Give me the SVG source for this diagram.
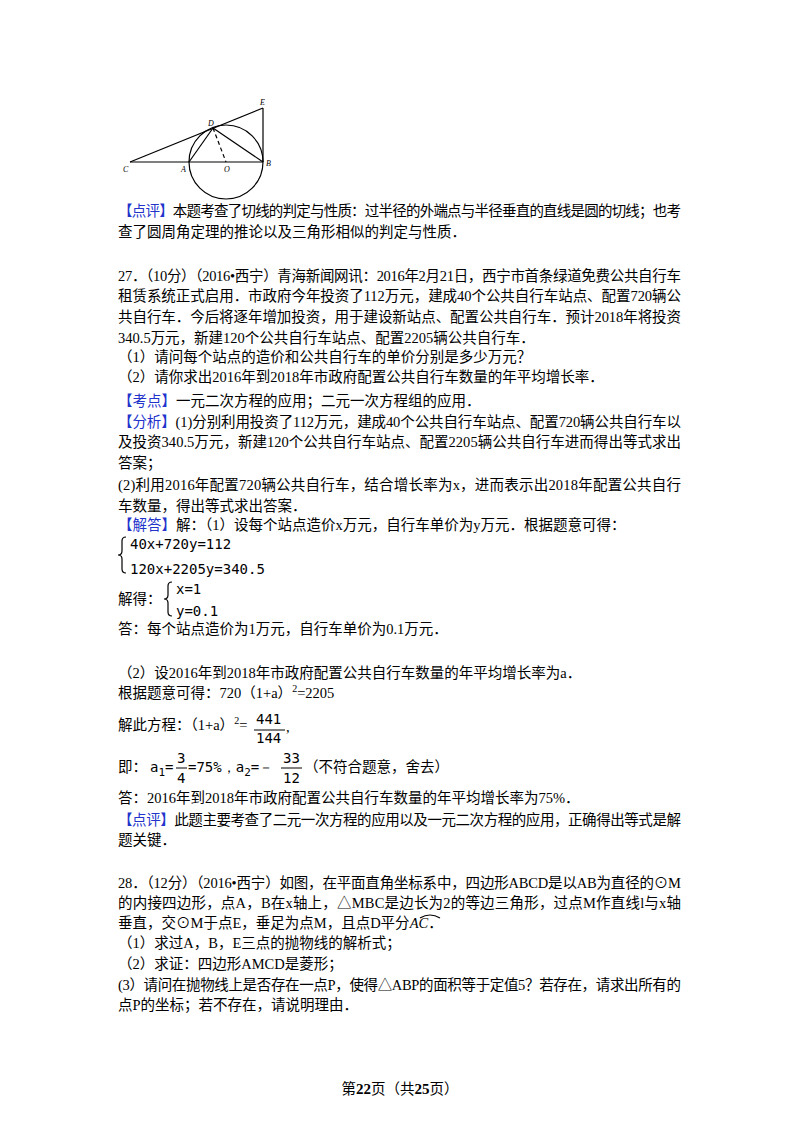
<svg xmlns="http://www.w3.org/2000/svg" width="800" height="1132" viewBox="0 0 800 1132">
<style>
text{font-family:"Liberation Serif","Noto Sans CJK SC",serif;font-size:14.5px;fill:#000}
.b{fill:#2233cc}
.m{font-family:"DejaVu Sans Mono","Liberation Mono",monospace;font-size:14px}
.l{font-family:"Liberation Serif",serif;font-style:italic;font-size:8px}
.g{stroke:#000;stroke-width:1.2;fill:none}
</style>
<rect width="800" height="1132" fill="#fff"/>
<g id="figure">
<circle class="g" cx="226" cy="162" r="37"/>
<line class="g" x1="130" y1="162" x2="263" y2="162"/>
<line class="g" x1="130" y1="162" x2="263" y2="108"/>
<line class="g" x1="263" y1="108" x2="263" y2="162"/>
<line class="g" x1="213" y1="128" x2="189" y2="162"/>
<line class="g" x1="213" y1="128" x2="263" y2="162"/>
<line class="g" x1="213" y1="128" x2="226" y2="162" stroke-dasharray="4,3"/>
<text class="l" x="123" y="172">C</text>
<text class="l" x="181" y="172">A</text>
<text class="l" x="224" y="172">O</text>
<text class="l" x="266" y="166">B</text>
<text class="l" x="260" y="105">E</text>
<text class="l" x="208" y="126">D</text>
</g>
<g id="text">
<text x="118" y="216" textLength="563" lengthAdjust="spacing"><tspan class="b">【点评】</tspan>本题考查了切线的判定与性质：过半径的外端点与半径垂直的直线是圆的切线；也考</text>
<text x="118" y="237">查了圆周角定理的推论以及三角形相似的判定与性质．</text>
<text x="118" y="281" textLength="563" lengthAdjust="spacing">27．（10分）（2016•西宁）青海新闻网讯：2016年2月21日，西宁市首条绿道免费公共自行车</text>
<text x="118" y="301" textLength="563" lengthAdjust="spacing">租赁系统正式启用．市政府今年投资了112万元，建成40个公共自行车站点、配置720辆公</text>
<text x="118" y="322" textLength="563" lengthAdjust="spacing">共自行车．今后将逐年增加投资，用于建设新站点、配置公共自行车．预计2018年将投资</text>
<text x="118" y="343">340.5万元，新建120个公共自行车站点、配置2205辆公共自行车．</text>
<text x="118" y="362">（1）请问每个站点的造价和公共自行车的单价分别是多少万元？</text>
<text x="118" y="382">（2）请你求出2016年到2018年市政府配置公共自行车数量的年平均增长率．</text>
<text x="118" y="406"><tspan class="b">【考点】</tspan>一元二次方程的应用；二元一次方程组的应用．</text>
<text x="118" y="427" textLength="563" lengthAdjust="spacing"><tspan class="b">【分析】</tspan>(1)分别利用投资了112万元，建成40个公共自行车站点、配置720辆公共自行车以</text>
<text x="118" y="447" textLength="563" lengthAdjust="spacing">及投资340.5万元，新建120个公共自行车站点、配置2205辆公共自行车进而得出等式求出</text>
<text x="118" y="468">答案；</text>
<text x="118" y="490" textLength="563" lengthAdjust="spacing">(2)利用2016年配置720辆公共自行车，结合增长率为x，进而表示出2018年配置公共自行</text>
<text x="118" y="511">车数量，得出等式求出答案．</text>
<text x="118" y="530"><tspan class="b">【解答】</tspan>解：（1）设每个站点造价x万元，自行车单价为y万元．根据题意可得：</text>
<path class="g" d="M126,537 q-4,0 -4,4 v10 q0,4 -4,4 q4,0 4,4 v10 q0,4 4,4" stroke-width="1"/>
<text class="m" x="130" y="549">40x+720y=112</text>
<text class="m" x="130" y="574">120x+2205y=340.5</text>
<text x="118" y="604">解得：</text>
<path class="g" d="M172,582 q-4,0 -4,4 v9 q0,4 -4,4 q4,0 4,4 v9 q0,4 4,4" stroke-width="1"/>
<text class="m" x="176" y="594">x=1</text>
<text class="m" x="176" y="616">y=0.1</text>
<text x="118" y="634">答：每个站点造价为1万元，自行车单价为0.1万元．</text>
<text x="118" y="678">（2）设2016年到2018年市政府配置公共自行车数量的年平均增长率为a．</text>
<text x="118" y="698">根据题意可得：720（1+a）<tspan dy="-6" font-size="10">2</tspan><tspan dy="6">=2205</tspan></text>
<text x="118" y="730">解此方程：（1+a）<tspan dy="-6" font-size="10">2</tspan><tspan dy="6">=</tspan></text>
<line x1="254" y1="730" x2="285" y2="730" stroke="#000" stroke-width="1"/>
<text class="m" x="256" y="724">441</text>
<text class="m" x="256" y="743">144</text>
<text x="286" y="732">,</text>
<text x="118" y="772">即：</text>
<text class="m" x="150" y="772">a<tspan font-size="11" dy="4">1</tspan><tspan dy="-4">=</tspan></text>
<line x1="176" y1="768" x2="187" y2="768" stroke="#000" stroke-width="1"/>
<text class="m" x="177" y="763">3</text>
<text class="m" x="177" y="783">4</text>
<text class="m" x="188" y="772">=75%，a<tspan font-size="11" dy="4">2</tspan><tspan dy="-4">=－</tspan></text>
<line x1="281" y1="768" x2="302" y2="768" stroke="#000" stroke-width="1"/>
<text class="m" x="283" y="763">33</text>
<text class="m" x="283" y="783">12</text>
<text x="304" y="772">（不符合题意，舍去）</text>
<text x="118" y="803">答：2016年到2018年市政府配置公共自行车数量的年平均增长率为75%．</text>
<text x="118" y="825" textLength="563" lengthAdjust="spacing"><tspan class="b">【点评】</tspan>此题主要考查了二元一次方程的应用以及一元二次方程的应用，正确得出等式是解</text>
<text x="118" y="845">题关键．</text>
<text x="118" y="888" textLength="563" lengthAdjust="spacing">28．（12分）（2016•西宁）如图，在平面直角坐标系中，四边形ABCD是以AB为直径的⊙M</text>
<text x="118" y="908" textLength="563" lengthAdjust="spacing">的内接四边形，点A，B在x轴上，△MBC是边长为2的等边三角形，过点M作直线l与x轴</text>
<text x="118" y="928">垂直，交⊙M于点E，垂足为点M，且点D平分<tspan font-style="italic">AC</tspan>．</text>
<path class="g" d="M420,918 q10,-6 20,0" stroke-width="1"/>
<text x="118" y="948">（1）求过A，B，E三点的抛物线的解析式；</text>
<text x="118" y="969">（2）求证：四边形AMCD是菱形；</text>
<text x="118" y="990" textLength="563" lengthAdjust="spacing">(3）请问在抛物线上是否存在一点P，使得△ABP的面积等于定值5？若存在，请求出所有的</text>
<text x="118" y="1010">点P的坐标；若不存在，请说明理由．</text>
<text x="400" y="1094" text-anchor="middle" font-size="13">第<tspan font-weight="bold" font-size="15">22</tspan>页（共<tspan font-weight="bold" font-size="15">25</tspan>页）</text>
</g>
</svg>
